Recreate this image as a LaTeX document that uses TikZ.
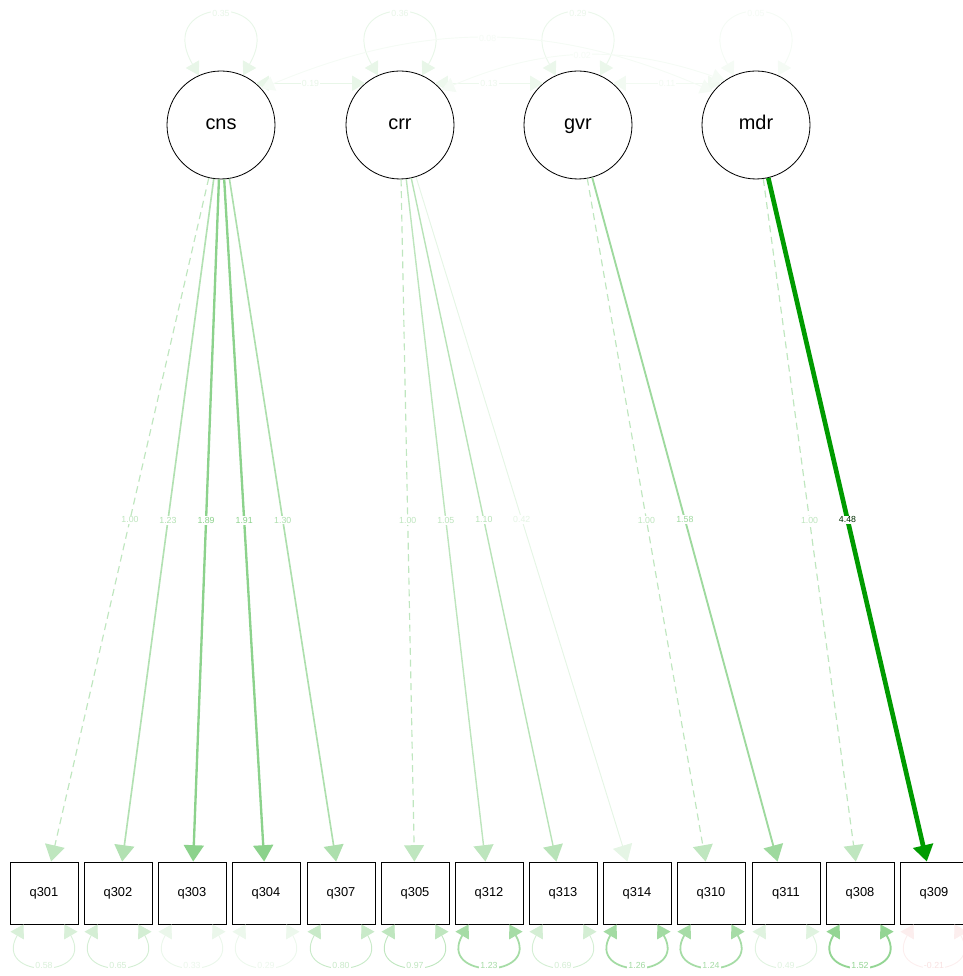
\documentclass[tikz,border=0pt]{standalone}
\usepackage{fontspec}
\setmainfont{Liberation Sans}
\usetikzlibrary{arrows.meta,positioning}
\definecolor{semgreen}{RGB}{0,155,0}
\definecolor{semred}{RGB}{215,40,40}
\tikzset{
  latent/.style={circle,draw=black,line width=0.7pt,minimum size=3.24cm,inner sep=0pt,text height=12pt,text depth=3.5pt,font=\fontsize{17}{20}\selectfont},
  manifest/.style={rectangle,draw=black,line width=0.7pt,minimum width=2.04cm,minimum height=1.86cm,inner sep=0pt,font=\fontsize{11}{13}\selectfont},
  load/.style={-{Triangle[length=14pt,width=17pt]},line width=1.2pt,color=semgreen!#1},
  fixload/.style={load=#1,line width=1pt,dash pattern=on 6pt off 4pt},
  resid/.style={{Triangle[length=11pt,width=13pt]}-{Triangle[length=11pt,width=13pt]},line width=0.8pt,color=semgreen!#1},
  lbl/.style={fill=white,inner sep=1pt,font=\fontsize{7.5}{9}\selectfont},
}
\begin{document}
\begin{tikzpicture}[x=0.03cm,y=0.03cm]
\useasboundingbox (0,0) rectangle (963,976);
% latent variables
\node (cns) [latent] at (221,851) {cns};
\node (crr) [latent] at (400,851) {crr};
\node (gvr) [latent] at (578,851) {gvr};
\node (mdr) [latent] at (756,851) {mdr};
% items
\node (q301) [manifest] at (44,83) {q301};
\node (q302) [manifest] at (118,83) {q302};
\node (q303) [manifest] at (192,83) {q303};
\node (q304) [manifest] at (266,83) {q304};
\node (q307) [manifest] at (341,83) {q307};
\node (q305) [manifest] at (415,83) {q305};
\node (q312) [manifest] at (489,83) {q312};
\node (q313) [manifest] at (563,83) {q313};
\node (q314) [manifest] at (637,83) {q314};
\node (q310) [manifest] at (711,83) {q310};
\node (q311) [manifest] at (786,83) {q311};
\node (q308) [manifest] at (860,83) {q308};
\node (q309) [manifest] at (934,83) {q309};
%
\path[fixload=25](cns) edge node[lbl] {1.00} (q301);
\path[load=30,line width=1.4pt](cns) edge node[lbl] {1.23} (q302);
\path[load=45,line width=2pt](cns) edge node[lbl] {1.89} (q303);
\path[load=45,line width=2pt](cns) edge node[lbl] {1.91} (q304);
\path[load=32,line width=1.4pt](cns) edge node[lbl] {1.30} (q307);

\path[fixload=25](crr) edge node[lbl] {1.00} (q305);
\path[load=26](crr) edge node[lbl] {1.05} (q312);
\path[load=28](crr) edge node[lbl] {1.10} (q313);
\path[load=10,line width=0.8pt](crr) edge node[lbl] {0.42} (q314);

\path[fixload=25](gvr) edge node[lbl] {1.00} (q310);
\path[load=38,line width=1.6pt](gvr) edge node[lbl] {1.58} (q311);

\path[fixload=25](mdr) edge node[lbl] {1.00} (q308);
\path[load=100,line width=4pt](mdr) edge node[lbl,text=black!70!semgreen] {4.48} (q309);
% variances of the factors
\path[resid=9](cns.114) edge[out=120,in=60,looseness=5.5] node[lbl] {0.35} (cns.66);
\path[resid=9](crr.114) edge[out=120,in=60,looseness=5.5] node[lbl] {0.36} (crr.66);
\path[resid=8](gvr.114) edge[out=120,in=60,looseness=5.5] node[lbl] {0.29} (gvr.66);
\path[resid=4](mdr.114) edge[out=120,in=60,looseness=5.5] node[lbl] {0.05} (mdr.66);
% covariances
\path[resid=9](cns.50) edge node[lbl] {0.19} (crr.130);
\path[resid=7](crr.50) edge node[lbl] {0.13} (gvr.130);
\path[resid=5](gvr.50) edge node[lbl] {0.11} (mdr.130);
\path[resid=4](cns.42) edge[bend left=23] node[lbl] {0.08} (mdr.142);
\path[resid=4](crr.40) edge[bend left=21] node[lbl] {0.02} (mdr.125);
% residuals
\path[resid=15](q301.-123) edge[out=-120,in=-60,looseness=4] node[lbl] {0.58} (q301.-57);
\path[resid=17](q302.-123) edge[out=-120,in=-60,looseness=4] node[lbl] {0.65} (q302.-57);
\path[resid=8](q303.-123) edge[out=-120,in=-60,looseness=4] node[lbl] {0.33} (q303.-57);
\path[resid=7](q304.-123) edge[out=-120,in=-60,looseness=4] node[lbl] {0.29} (q304.-57);
\path[resid=21](q307.-123) edge[out=-120,in=-60,looseness=4] node[lbl] {0.80} (q307.-57);
\path[resid=25](q305.-123) edge[out=-120,in=-60,looseness=4] node[lbl] {0.97} (q305.-57);
\path[resid=35,line width=1.5pt](q312.-123) edge[out=-120,in=-60,looseness=4] node[lbl] {1.23} (q312.-57);
\path[resid=17](q313.-123) edge[out=-120,in=-60,looseness=4] node[lbl] {0.69} (q313.-57);
\path[resid=36,line width=1.5pt](q314.-123) edge[out=-120,in=-60,looseness=4] node[lbl] {1.26} (q314.-57);
\path[resid=35,line width=1.5pt](q310.-123) edge[out=-120,in=-60,looseness=4] node[lbl] {1.24} (q310.-57);
\path[resid=12](q311.-123) edge[out=-120,in=-60,looseness=4] node[lbl] {0.49} (q311.-57);
\path[resid=42,line width=1.6pt](q308.-123) edge[out=-120,in=-60,looseness=4] node[lbl] {1.52} (q308.-57);
\path[resid=7,color=semred!8](q309.-123) edge[out=-120,in=-60,looseness=4] node[lbl,text=semred!14] {-0.21} (q309.-57);
\end{tikzpicture}
\end{document}
